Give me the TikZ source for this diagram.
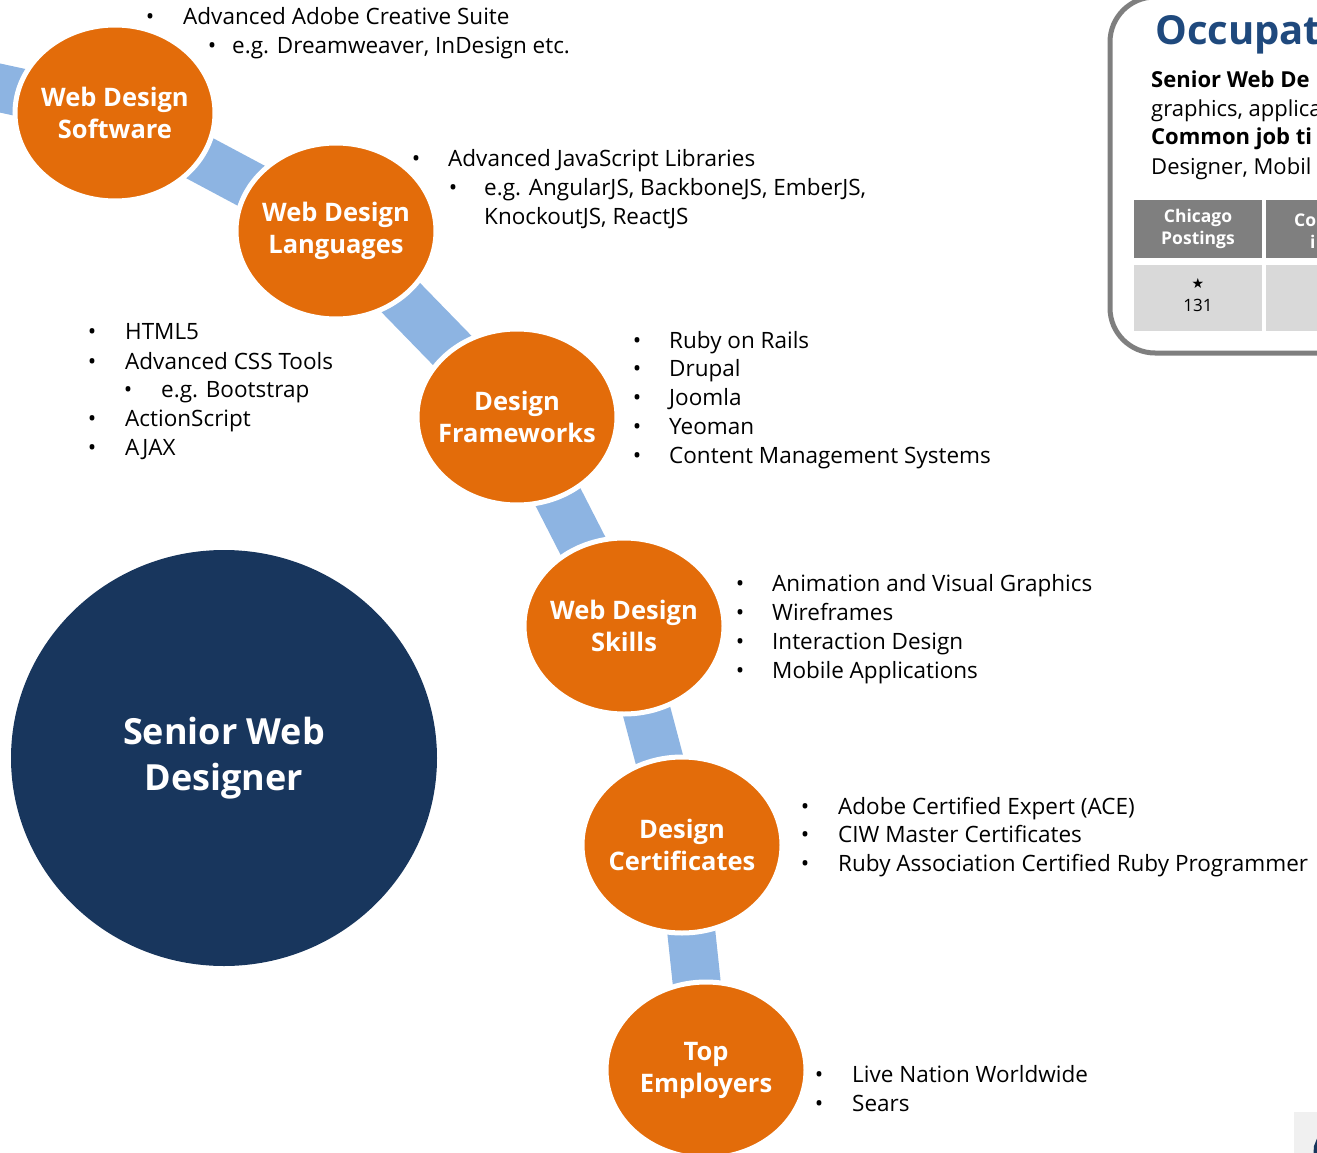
\documentclass[tikz,border=0pt]{standalone}
\usepackage{fontspec}
\setmainfont{Open Sans}
\newfontfamily\symfont{DejaVu Sans}
\usetikzlibrary{shapes.geometric, backgrounds}

\definecolor{topicorange}{RGB}{227,108,10}
\definecolor{rolenavy}{RGB}{24,54,93}
\definecolor{bandblue}{RGB}{141,180,226}
\definecolor{titleblue}{RGB}{31,73,125}
\definecolor{panelgray}{RGB}{127,127,127}
\definecolor{cellgray}{RGB}{217,217,217}

\begin{document}
\begin{tikzpicture}[x=1pt, y=-1pt,
 topic/.style = {ellipse, fill=topicorange, draw=white, line width=5pt,
   minimum width=200pt, minimum height=176pt, inner xsep=-30pt, inner ysep=-12pt,
   text=white, align=center, font=\bfseries\fontsize{25.5}{32}\selectfont},
 role/.style = {ellipse, fill=rolenavy, minimum width=426pt, minimum height=416pt,
   inner sep=0pt, text=white, align=center, font=\bfseries\fontsize{36}{46}\selectfont},
 band/.style = {line width=48pt, bandblue},
 item/.style = {anchor=base west, inner sep=0pt, font=\fontsize{22.5}{26}\selectfont},
 dot/.style = {anchor=base, inner sep=0pt, font=\fontsize{22.5}{26}\selectfont},
 boxtext/.style = {anchor=base west, inner sep=0pt, font=\fontsize{22}{26}\selectfont},
 hcell/.style = {fill=panelgray, minimum width=128pt, minimum height=58pt, inner sep=0pt,
   text=white, align=center, font=\bfseries\fontsize{17.5}{22}\selectfont},
 bcell/.style = {fill=cellgray, minimum width=128pt, minimum height=66pt, inner sep=0pt},
]
\useasboundingbox (0,0) rectangle (1317,1153);
\clip (0,0) rectangle (1317,1153);

% circles
\node[topic] (wds) at (115,113) {Web Design\\Software};
\node[topic] (wdl) at (336,231) {Web Design\\Languages};
\node[topic] (dfw) at (517,417) {Design\\Frameworks};
\node[topic] (wdk) at (624,626) {Web Design\\Skills};
\node[topic] (dct) at (682,845) {Design\\Certificates};
\node[topic] (emp) at (706,1070) {Top\\Employers};
\node[role] (swd) at (224,758) {Senior Web\\Designer};

% bands behind the circles
\begin{scope}[on background layer]
 \coordinate (tail) at (-60,75);
 \foreach \a/\b in {tail/wds, wds/wdl, wdl/dfw, dfw/wdk, wdk/dct, dct/emp}
  \draw[band] (\a.center) -- (\b.center);
\end{scope}

% Web Design Software
\node[dot] (wds-b1) at (150,25) {•};
\node[item] (wds-t1) at (183,25) {Advanced Adobe Creative Suite};
\node[dot] (wds-b2) at (212,54) {•};
\node[item] (wds-t2) at (232,54) {e.g. Dreamweaver, InDesign etc.};

% Web Design Languages
\node[dot] (wdl-b1) at (416,166) {•};
\node[item] (wdl-t1) at (448,166) {Advanced JavaScript Libraries};
\node[dot] (wdl-b2) at (453,195) {•};
\node[item] (wdl-t2) at (484,195) {e.g. AngularJS, BackboneJS, EmberJS,};
\node[item] (wdl-t3) at (484,224) {KnockoutJS, ReactJS};

% left list
\node[dot] (lft-b1) at (92,339) {•};
\node[item] (lft-t1) at (125,339) {HTML5};
\node[dot] (lft-b2) at (92,369) {•};
\node[item] (lft-t2) at (125,369) {Advanced CSS Tools};
\node[dot] (lft-b3) at (128,397) {•};
\node[item] (lft-t3) at (161,397) {e.g. Bootstrap};
\node[dot] (lft-b4) at (92,426) {•};
\node[item] (lft-t4) at (125,426) {ActionScript};
\node[dot] (lft-b5) at (92,455) {•};
\node[item] (lft-t5) at (125,455) {AJAX};

% Design Frameworks
\foreach \txt [count=\i] in {Ruby on Rails, Drupal, Joomla, Yeoman, Content Management Systems} {
 \node[dot] (dfw-b\i) at (637,{319.25+28.75*\i}) {•};
 \node[item] (dfw-t\i) at (669,{319.25+28.75*\i}) {\txt};
}

% Web Design Skills
\foreach \txt [count=\i] in {Animation and Visual Graphics, Wireframes, Interaction Design, Mobile Applications} {
 \node[dot] (wdk-b\i) at (740,{562+29*\i}) {•};
 \node[item] (wdk-t\i) at (772,{562+29*\i}) {\txt};
}

% Design Certificates
\foreach \txt [count=\i] in {Adobe Certified Expert (ACE), CIW Master Certificates, Ruby Association Certified Ruby Programmer} {
 \node[dot] (dct-b\i) at (805,{785.5+28.5*\i}) {•};
 \node[item] (dct-t\i) at (838,{785.5+28.5*\i}) {\txt};
}

% Top Employers
\foreach \txt [count=\i] in {Live Nation Worldwide, Sears} {
 \node[dot] (emp-b\i) at (819,{1053+29*\i}) {•};
 \node[item] (emp-t\i) at (852,{1053+29*\i}) {\txt};
}

% occupation panel
\draw[panelgray, line width=5pt, rounded corners=45pt] (1110,-3) rectangle (1420,353);
\node[anchor=base west, inner sep=0pt, text=titleblue, font=\bfseries\fontsize{40}{48}\selectfont]
 (occ) at (1155,45) {Occupat};
\node[boxtext, font=\bfseries\fontsize{22}{26}\selectfont] (occ-1) at (1151,88) {Senior Web De};
\node[boxtext] (occ-2) at (1151,117) {graphics, applica};
\node[boxtext, font=\bfseries\fontsize{22}{26}\selectfont] (occ-3) at (1151,145) {Common job ti};
\node[boxtext] (occ-4) at (1151,174) {Designer, Mobil};

\node[hcell] (hc1) at (1198,229) {Chicago\\Postings};
\node[hcell] (hc2) at (1330,229) {};
\node[anchor=base west, inner sep=0pt, text=white, font=\bfseries\fontsize{17.5}{22}\selectfont]
 (hc2-1) at (1294,226) {Co};
\node[anchor=base west, inner sep=0pt, text=white, font=\bfseries\fontsize{17.5}{22}\selectfont]
 (hc2-2) at (1310,248) {i};
\node[bcell] (bc1) at (1198,298) {};
\node[bcell] (bc2) at (1330,298) {};
\node[inner sep=0pt, font=\symfont\fontsize{14}{16}\selectfont] (star) at (1198,283) {★};
\node[inner sep=0pt, font=\fontsize{17}{20}\selectfont] (cnt) at (1198,305) {131};

% corner logo
\fill[black!6] (1294,1112) rectangle (1330,1160);
\fill[rolenavy] (1313,1160) -- (1314,1146) -- (1318,1136) -- (1318,1160) -- cycle;
\end{tikzpicture}
\end{document}
